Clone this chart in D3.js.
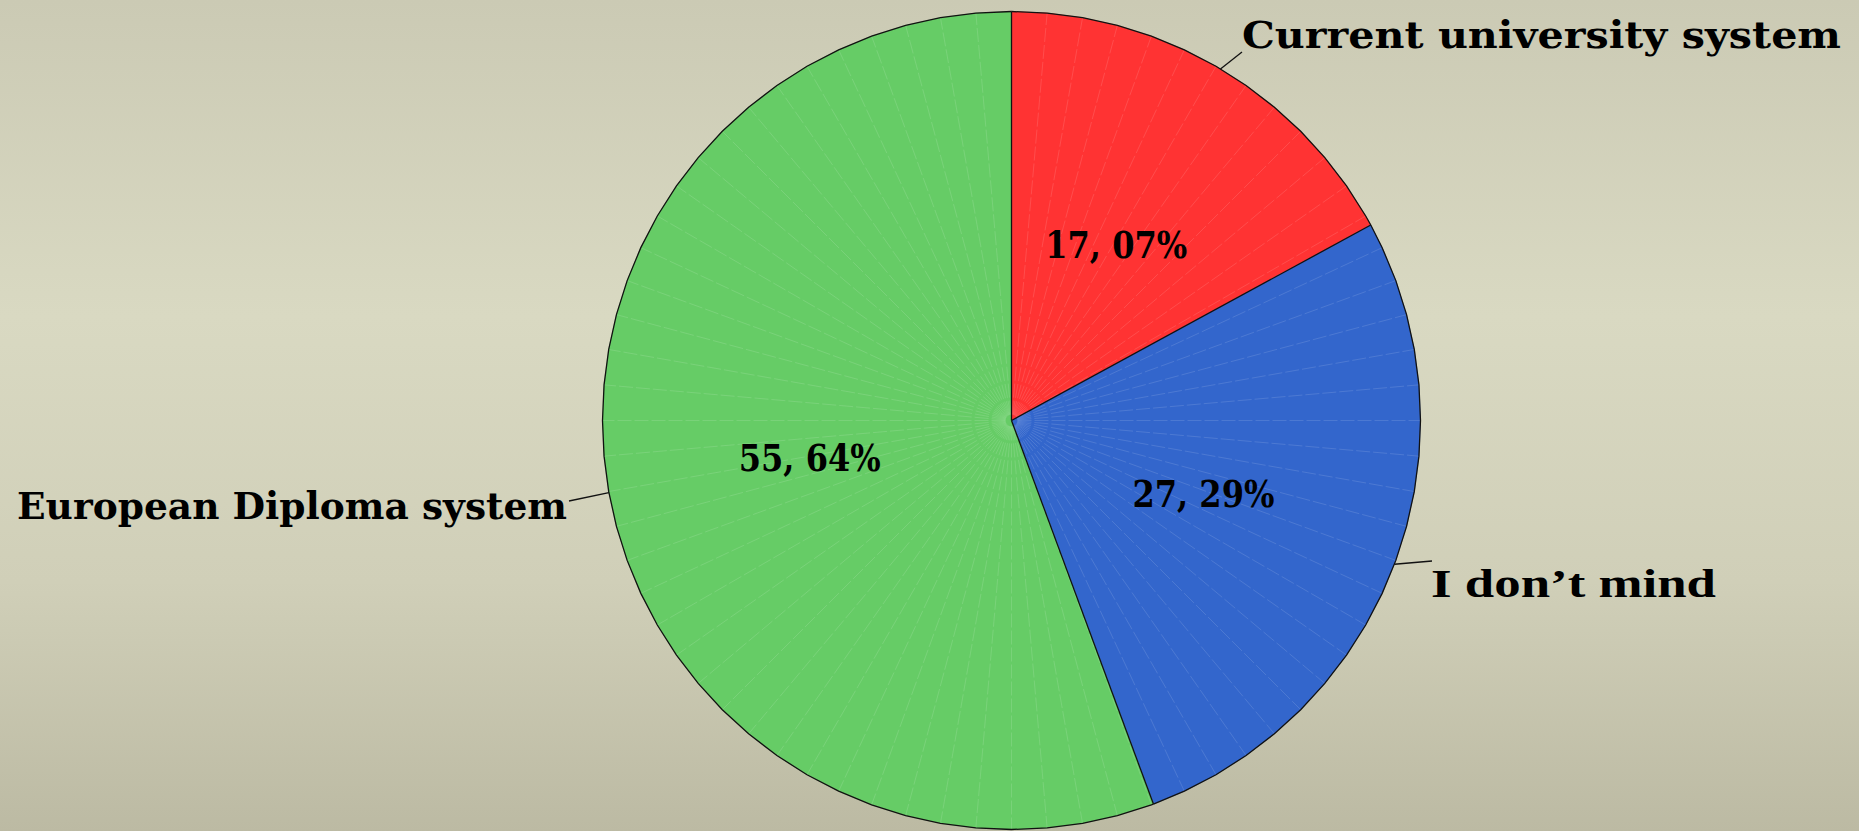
<!DOCTYPE html>
<html>
<head>
<meta charset="utf-8">
<script src="https://cdn.jsdelivr.net/npm/d3@7"></script>
<style>
  html, body { margin: 0; padding: 0; overflow: hidden; }
  svg { display: block; }
</style>
</head>
<body>
<svg id="chart" width="1859" height="831"></svg>
<script>
// ---- data ----
const categories = ["Current university system", "I don\u2019t mind", "European Diploma system"];
const values = [17.07, 27.29, 55.64];
const valueLabels = ["17, 07%", "27, 29%", "55, 64%"];
const colors = ["#ff3333", "#3366cc", "#66cc66"];

// ---- layout ----
const W = 1859, H = 831;
const cx = 1011.5, cy = 420.5, R = 409;
const facetDeg = 5;

const svg = d3.select("#chart");
const defs = svg.append("defs");
const grad = defs.append("linearGradient").attr("id", "bg").attr("x1", 0).attr("y1", 0).attr("x2", 0).attr("y2", 1);
grad.append("stop").attr("offset", "0%").attr("stop-color", "#cbcab4");
grad.append("stop").attr("offset", "38%").attr("stop-color", "#d9d9c2");
grad.append("stop").attr("offset", "70%").attr("stop-color", "#d0cfb8");
grad.append("stop").attr("offset", "100%").attr("stop-color", "#bcbaa3");
svg.append("rect").attr("width", W).attr("height", H).attr("fill", "url(#bg)");

const pie = d3.pie().sort(null).value(d => d)(values);
const g = svg.append("g").attr("transform", `translate(${cx},${cy})`);

const pt = (a, r) => [r * Math.sin(a), -r * Math.cos(a)];
const step = facetDeg * Math.PI / 180;
const facetAngles = p => {
  const angles = [p.startAngle];
  let k = Math.floor(p.startAngle / step + 1e-9) + 1;
  while (k * step < p.endAngle - 1e-6) { angles.push(k * step); k++; }
  angles.push(p.endAngle);
  return angles;
};

pie.forEach((p, i) => {
  const angles = facetAngles(p);
  const pts = [[0, 0]].concat(angles.map(a => pt(a, R)));
  g.append("path")
    .attr("d", d3.line()(pts) + "Z")
    .attr("fill", colors[i])
    .attr("stroke", colors[i])
    .attr("stroke-width", 0.5);
  // faint seams
  angles.slice(1, -1).forEach(a => {
    const q0 = pt(a, 6), q = pt(a, R);
    g.append("line").attr("x1", q0[0]).attr("y1", q0[1]).attr("x2", q[0]).attr("y2", q[1])
      .attr("stroke", "#ffffff").attr("stroke-opacity", 0.18).attr("stroke-width", 0.7)
      .attr("stroke-dasharray", "14,3");
  });
});

// outline
pie.forEach((p, i) => {
  const angles = facetAngles(p);
  g.append("path").attr("d", d3.line()(angles.map(a => pt(a, R))))
    .attr("fill", "none").attr("stroke", "#111").attr("stroke-width", 1.3);
  const q = pt(p.startAngle, R);
  g.append("line").attr("x1", 0).attr("y1", 0).attr("x2", q[0]).attr("y2", q[1])
    .attr("stroke", "#111").attr("stroke-width", 1.3);
});

// percent labels at centroids
const labelArc = d3.arc().innerRadius(205).outerRadius(205);
pie.forEach((p, i) => {
  const c = labelArc.centroid(p);
  g.append("text")
    .attr("x", c[0]).attr("y", c[1] + 14)
    .attr("text-anchor", "middle")
    .attr("font-family", "'DejaVu Serif', serif")
    .attr("font-weight", "bold")
    .attr("font-size", 38)
    .attr("textLength", 142).attr("lengthAdjust", "spacingAndGlyphs")
    .attr("fill", "#000")
    .text(valueLabels[i]);
});

// category labels with leader lines
const labelPos = [
  { end: [1242, 52], tx: 1242, ty: 48, anchor: "start", len: 599 },
  { end: [1432, 561], tx: 1431, ty: 597, anchor: "start", len: 285 },
  { end: [569, 501], tx: 567, ty: 519, anchor: "end", len: 550 }
];
pie.forEach((p, i) => {
  const mid = (p.startAngle + p.endAngle) / 2;
  const s = pt(mid, R);
  const L = labelPos[i];
  svg.append("line")
    .attr("x1", cx + s[0]).attr("y1", cy + s[1])
    .attr("x2", L.end[0]).attr("y2", L.end[1])
    .attr("stroke", "#111").attr("stroke-width", 1.3);
  svg.append("text")
    .attr("x", L.tx).attr("y", L.ty)
    .attr("text-anchor", L.anchor)
    .attr("font-family", i === 1 ? "'Liberation Serif', serif" : "'DejaVu Serif', serif")
    .attr("font-weight", "bold")
    .attr("font-size", i === 1 ? 41 : 38)
    .attr("textLength", L.len).attr("lengthAdjust", "spacingAndGlyphs")
    .attr("fill", "#000")
    .text(categories[i]);
});
</script>
</body>
</html>
